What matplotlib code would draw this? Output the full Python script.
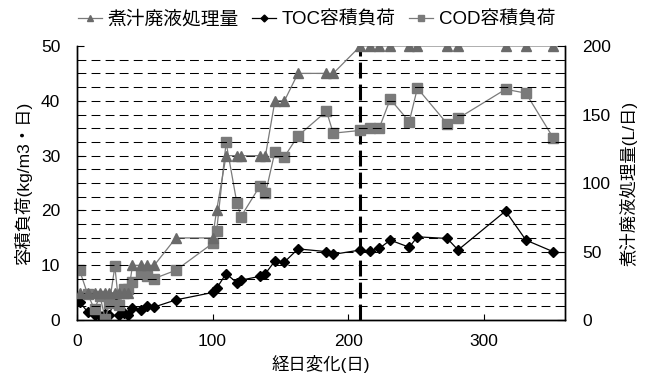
import numpy as np
import matplotlib.pyplot as plt
from matplotlib.ticker import MultipleLocator

plt.rcParams['font.family'] = ['Liberation Sans', 'Noto Sans CJK JP']

# 経日変化(日)
days = [2, 8, 13, 17, 21, 24, 28, 31, 35, 38,
        41, 47, 52, 57, 73,
        100, 103, 110, 118, 121, 135, 139, 146, 153, 163, 184, 189,
        209, 216, 223, 231, 245, 251, 273, 281, 316, 331, 351]

# 煮汁廃液処理量 (L/日) - 右軸
flow = [20, 20, 20, 20, 20, 20, 20, 20, 20, 20,
        40, 40, 40, 40, 60,
        60, 80, 120, 120, 120, 120, 120, 160, 160, 180, 180, 180,
        200, 200, 200, 200, 200, 200, 200, 200, 200, 200, 200]

# TOC容積負荷 (kg/m3・日)
toc = [3.3, 1.5, 0.9, 0.7, 1.2, 0.9, 4.3, 1.0, 1.4, 0.9,
       2.2, 1.8, 2.5, 2.4, 3.7,
       5.05, 5.8, 8.5, 6.8, 7.3, 8.0, 8.5, 10.8, 10.6, 13.0, 12.5, 12.0,
       12.8, 12.6, 13.1, 14.6, 13.3, 15.2, 14.9, 12.8, 19.9, 14.6, 12.5]

# COD容積負荷 (kg/m3・日)
cod = [9.1, 4.7, 2.0, 4.4, 0.2, 3.2, 9.8, 2.7, 5.6, 5.6,
       7.0, 8.6, 8.1, 7.6, 9.1,
       14.0, 16.2, 32.4, 21.3, 18.9, 24.5, 23.1, 30.7, 29.8, 33.6, 38.1, 34.1,
       34.6, 35.0, 35.1, 40.3, 36.2, 42.3, 35.8, 36.8, 42.1, 41.4, 33.3]

switch_day = 209

fig = plt.figure(figsize=(6.46, 3.83), dpi=100)
ax = fig.add_axes([0.119, 0.164, 0.756, 0.716])
ax2 = ax.twinx()

# 横方向の破線グリッド(右軸10刻み)
for v in np.arange(10, 200, 10):
    ax2.axhline(v, color='black', lw=0.75, ls=(0, (8.5, 5)), zorder=0)

ax.axvline(switch_day, color='black', lw=2.2, ls=(0, (5.2, 2)), zorder=3)

l_toc, = ax.plot(days, toc, color='black', lw=0.9, marker='D', ms=5,
                 mfc='black', mec='black', zorder=4, label='TOC容積負荷')
l_cod, = ax.plot(days, cod, color='#7a7a7a', lw=0.9, marker='s', ms=6.5,
                 mfc='#7a7a7a', mec='#7a7a7a', zorder=4, label='COD容積負荷')
l_flow, = ax2.plot(days, flow, color='#7a7a7a', lw=0.9, marker='^', ms=6.5,
                   mfc='#6a6a6a', mec='#6a6a6a', zorder=4, label='煮汁廃液処理量')

ax.set_xlim(0, 360)
ax.set_ylim(0, 50)
ax2.set_ylim(0, 200)

ax.xaxis.set_major_locator(MultipleLocator(100))
ax.yaxis.set_major_locator(MultipleLocator(10))
ax.yaxis.set_minor_locator(MultipleLocator(2.5))
ax2.yaxis.set_major_locator(MultipleLocator(50))
ax2.yaxis.set_minor_locator(MultipleLocator(10))

ax.tick_params(axis='x', direction='in', length=4, labelsize=12.5, pad=10)
ax.tick_params(axis='y', which='major', direction='in', length=5, labelsize=12.5, pad=12)
ax.tick_params(axis='y', which='minor', direction='in', length=4)
ax2.tick_params(axis='y', which='major', direction='in', length=6, labelsize=12.5, pad=12)
ax2.tick_params(axis='y', which='minor', direction='in', length=4)

for a in (ax, ax2):
    a.spines['top'].set_visible(False)
    for s in a.spines.values():
        s.set_linewidth(1.0)

ax.set_xlabel('経日変化(日)', fontsize=12.5)
ax.set_ylabel('容積負荷(kg/m3・日)', fontsize=12.5, labelpad=6)
ax2.set_ylabel('煮汁廃液処理量(L/日)', fontsize=12.5, labelpad=6)

fig.legend(handles=[l_flow, l_toc, l_cod], loc='upper center',
           bbox_to_anchor=(0.49, 1.015), ncol=3, frameon=False, fontsize=13.5,
           handlelength=1.3, handletextpad=0.3, columnspacing=0.7,
           markerscale=0.7)

fig.savefig('out.png', dpi=100)
